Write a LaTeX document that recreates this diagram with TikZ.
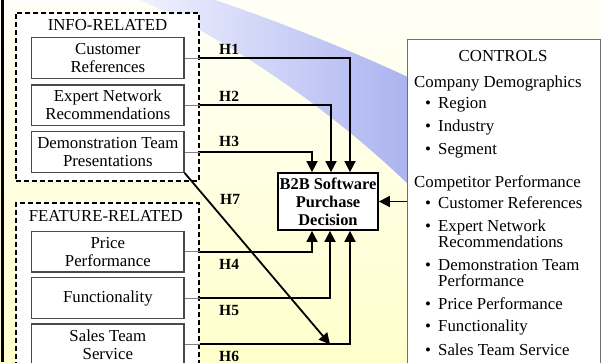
\documentclass[tikz,border=0pt]{standalone}
\usepackage{fontspec}
\setmainfont{Liberation Serif}
\usetikzlibrary{arrows.meta,calc}

\definecolor{bgtop}{HTML}{FFFFF7}
\definecolor{bgbot}{HTML}{FFFFCC}
\definecolor{bandlight}{HTML}{F0F2FE}
\definecolor{banddark}{HTML}{ABB3F0}
\definecolor{boxline}{HTML}{4A4A4A}
\definecolor{ctrlline}{HTML}{707070}
\definecolor{leadgray}{HTML}{808080}

\begin{document}
\begin{tikzpicture}[x=1pt,y=-1pt,
  txt/.style={font=\fontsize{16.8}{18}\selectfont},
  factor/.style={txt,draw=boxline,line width=1.2pt,fill=white,
    minimum width=152.3pt,minimum height=40.6pt,inner sep=0pt,align=center},
  group/.style={draw=black,line width=1.6pt,dash pattern=on 5pt off 3pt,
    fill=white,inner sep=0pt},
  grouptitle/.style={txt,anchor=base,inner sep=0pt},
  decision/.style={draw=black,line width=1.8pt,fill=white,inner sep=0pt,
    minimum width=100pt,minimum height=57pt,align=center,
    font=\bfseries\fontsize{16.4}{18}\selectfont},
  ctrlbox/.style={draw=ctrlline,line width=1.3pt,fill=white,inner sep=0pt},
  ctext/.style={anchor=base west,inner sep=0pt,align=left,
    font=\fontsize{16.8}{16}\selectfont},
  hlabel/.style={anchor=base west,inner sep=0pt,
    font=\bfseries\fontsize{15.5}{16}\selectfont},
  conn/.style={line width=1.8pt,black},
  arr/.style={conn,-{Triangle[width=11pt,length=11pt]}},
  lead/.style={line width=1pt,leadgray},
]
\newcommand{\bul}{\makebox[13pt][l]{•}}
\clip (0,0) rectangle (601,362);

% background
\shade[top color=bgtop,bottom color=bgbot] (0,0) rectangle (601,362);
\shade[left color=bandlight,right color=banddark]
  (140,0) -- (215,0) .. controls (280,22) and (350,50) .. (410,78)
  -- (410,186) .. controls (340,118) and (240,45) .. (140,0) -- cycle;
\draw[line width=3.2pt,black] (2.6,0) -- (2.6,362);

% factor groups
\node[group,minimum width=183pt,minimum height=168.3pt] (info) at (107.5,96.85) {};
\node[group,minimum width=183pt,minimum height=187pt] (feat) at (107.5,296.5) {};
\node[grouptitle] (infot) at (107.5,30) {INFO-RELATED};
\node[grouptitle] (featt) at (105.8,221.7) {FEATURE-RELATED};

\node[factor] (cr) at (107.85,58) {Customer\\References};
\node[factor] (en) at (107.85,105.2) {Expert Network\\Recommendations};
\node[factor] (dt) at (107.85,152) {Demonstration Team\\Presentations};
\node[factor] (pp) at (107.85,251.7) {Price\\Performance};
\node[factor] (fn) at (107.85,298) {Functionality};
\node[factor] (st) at (107.85,344.3) {Sales Team\\Service};

% outcome
\node[decision] (dec) at (328,201.5) {B2B Software\\Purchase\\Decision};
\path (dec.north) ++(-16,0) coordinate (n3) ++(19,0) coordinate (n2) ++(19,0) coordinate (n1);
\path (dec.south) ++(-16,0) coordinate (s4) ++(18,0) coordinate (s5) ++(20,0) coordinate (s6);
\coordinate (h7end) at (s5 |- st.east);

% controls (multi-line entries are placed by their last baseline)
\node[ctrlbox,minimum width=192.5pt,minimum height=361pt,anchor=north west] (ctrl) at (407,39) {};
\node[txt,anchor=base,inner sep=0pt] (ctitle) at (503,61) {CONTROLS};
\node[ctext] (cd) at (414,87.5) {Company Demographics};
\node[ctext] (c1) at (425,108) {\bul Region};
\node[ctext] (c2) at (425,131.5) {\bul Industry};
\node[ctext] (c3) at (425,154) {\bul Segment};
\node[ctext] (cp) at (414,187) {Competitor Performance};
\node[ctext] (c4) at (425,208) {\bul Customer References};
\node[ctext] (c5) at (425,247) {\bul Expert Network\\\hspace*{13pt}Recommendations};
\node[ctext] (c6) at (425,286) {\bul Demonstration Team\\\hspace*{13pt}Performance};
\node[ctext] (c7) at (425,309) {\bul Price Performance};
\node[ctext] (c8) at (425,331.5) {\bul Functionality};
\node[ctext] (c9) at (425,355) {\bul Sales Team Service};

% hypothesis paths
\foreach \src/\dst in {cr/n1,en/n2,dt/n3}{
  \draw[lead] (\src.east) -- (\src.east -| info.east);
  \draw[arr] (\src.east -| info.east) -| (\dst);
}
\foreach \src/\dst in {pp/s4,fn/s5,st/s6}{
  \draw[lead] (\src.east) -- (\src.east -| feat.east);
  \draw[arr] (\src.east -| feat.east) -| (\dst);
}
\draw[arr] (dt.south east) -- (h7end);
\draw[arr] (ctrl.west |- dec.east) -- (dec.east);

\node[hlabel] (h1) at (219,54) {H1};
\node[hlabel] (h2) at (219,101.7) {H2};
\node[hlabel] (h3) at (219,146.7) {H3};
\node[hlabel] (h7) at (220,204) {H7};
\node[hlabel] (h4) at (219,269) {H4};
\node[hlabel] (h5) at (219,315) {H5};
\node[hlabel] (h6) at (219,361) {H6};
\end{tikzpicture}
\end{document}
